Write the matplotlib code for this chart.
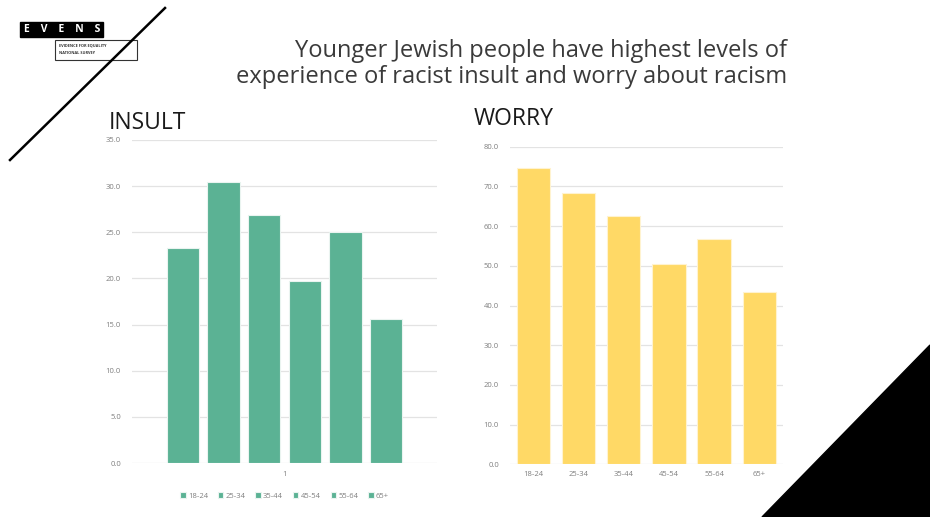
import numpy as np
import matplotlib.pyplot as plt
from matplotlib.patches import Rectangle, Polygon
from matplotlib.lines import Line2D

plt.rcParams['font.family'] = ['Open Sans', 'DejaVu Sans']

age_groups = ["18-24", "25-34", "35-44", "45-54", "55-64", "65+"]
insult = [23.3, 30.4, 26.9, 19.7, 25.0, 15.6]
worry = [74.7, 68.3, 62.6, 50.4, 56.8, 43.3]
insult_category = "1"

green = "#5BB294"
yellow = "#FFD966"
grid_col = "#E3E3E3"
tick_col = "#7F7F7F"

W, H = 930, 517
fig = plt.figure(figsize=(W / 100, H / 100), dpi=100)


def fx(px):
    return px / W


def fy(py):
    return 1 - py / H


# decorations
fig.add_artist(Line2D([fx(165), fx(10)], [fy(8), fy(160)], color="black", lw=1.8))
fig.add_artist(Polygon([[fx(930), fy(345)], [fx(762), fy(517)], [fx(930), fy(517)]],
                       closed=True, color="black", transform=fig.transFigure))
fig.add_artist(Rectangle((fx(20), fy(37)), fx(103) - fx(20), fy(22) - fy(37),
                         facecolor="black", edgecolor="black", transform=fig.transFigure))
fig.text(fx(62), fy(29.5), "E    V    E    N    S", color="white", fontsize=7.5, fontweight="bold",
         ha="center", va="center")
fig.add_artist(Rectangle((fx(55), fy(60)), fx(137) - fx(55), fy(40) - fy(60),
                         facecolor="white", edgecolor="#333333", lw=0.8, transform=fig.transFigure))
fig.text(fx(59), fy(45.5), "EVIDENCE FOR EQUALITY", fontsize=2.8, color="#333333",
         fontweight="bold", va="center")
fig.text(fx(59), fy(53.5), "NATIONAL SURVEY", fontsize=2.8, color="#333333",
         fontweight="bold", va="center")

fig.text(fx(787), fy(64), "Younger Jewish people have highest levels of\n"
         "experience of racist insult and worry about racism",
         ha="right", va="center", multialignment="right", fontsize=17,
         color="#3a3a3a", linespacing=1.12)

fig.text(fx(109), fy(123), "INSULT", fontsize=16.5, color="#1a1a1a", va="center")
fig.text(fx(474), fy(119), "WORRY", fontsize=16.5, color="#1a1a1a", va="center")


def style(ax, ymax, step):
    ax.set_ylim(0, ymax)
    ax.set_yticks(np.arange(0, ymax + 0.01, step))
    ax.set_yticklabels([f"{v:.1f}" for v in np.arange(0, ymax + 0.01, step)])
    ax.grid(axis="y", color=grid_col, lw=0.9)
    ax.set_axisbelow(True)
    for s in ax.spines.values():
        s.set_visible(False)
    ax.tick_params(axis="both", length=0, labelsize=5.5, colors=tick_col, pad=8)


# INSULT chart
ax1 = fig.add_axes([fx(132), fy(463), fx(437) - fx(132), fy(140) - fy(463)])
x = np.arange(len(age_groups))
for i, (g, v) in enumerate(zip(age_groups, insult)):
    ax1.bar(i, v, width=0.79, color=green, edgecolor="#EAF4F0", lw=0.8, label=g)
ax1.set_xlim(-1.25, 6.25)
style(ax1, 35, 5)
ax1.set_xticks([x.mean()])
ax1.set_xticklabels([insult_category])
ax1.tick_params(axis="x", pad=6)
ax1.legend(loc="upper center", bbox_to_anchor=(0.5, -0.07), ncol=6, frameon=False,
           fontsize=5.5, handlelength=0.7, handleheight=0.7, handletextpad=0.3,
           columnspacing=1.3, labelcolor=tick_col)

# WORRY chart
ax2 = fig.add_axes([fx(510), fy(464.3), fx(782.7) - fx(510), fy(146.7) - fy(464.3)])
ax2.bar(x, worry, width=0.74, color=yellow, edgecolor="#FFF3D0", lw=0.8)
ax2.set_xlim(-0.515, 5.515)
style(ax2, 80, 10)
ax2.set_xticks(x)
ax2.set_xticklabels(age_groups)
ax2.tick_params(axis="x", pad=5)

fig.savefig("out.png", dpi=100)
